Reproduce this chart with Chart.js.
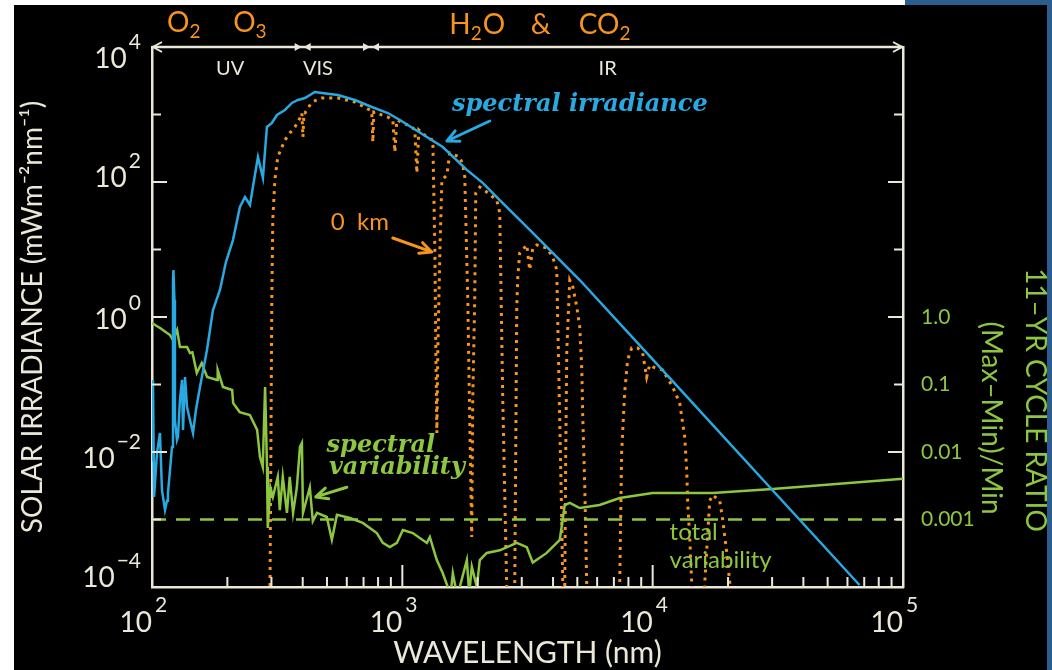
<!DOCTYPE html>
<html>
<head>
<meta charset="utf-8">
<title>Solar spectral irradiance and 11-yr variability</title>
<script src="https://cdn.jsdelivr.net/npm/chart.js@4.4.1/dist/chart.umd.min.js"></script>
<style>
  html, body { margin: 0; padding: 0; background: #fff; }
  #wrap { position: relative; width: 1052px; height: 670px; background: #fff; overflow: hidden; }
  #panel { position: absolute; left: 14px; top: 5px; width: 1033px; height: 665px; background: #000; }
  #edge { position: absolute; left: 1047px; top: 0; width: 5px; height: 670px; background: #2b5d8e; }
  #corner { position: absolute; left: 905px; top: 0; width: 147px; height: 5px; background: #2b5d8e; }
  canvas { position: absolute; left: 0; top: 0; }
</style>
</head>
<body>
<div id="wrap">
  <div id="panel"></div>
  <canvas id="chart" width="1052" height="670"></canvas>
  <div id="edge"></div>
  <div id="corner"></div>
</div>
<script>
// top of atmosphere spectral irradiance (mW m-2 nm-1)
const irrWl = [100, 100.9, 101.9, 104.7, 107.6, 109.6, 112.7, 114.8, 115.8, 118, 120.2, 121.3, 121.8, 122.9, 123.5,
  125.8, 127, 129.3, 131.8, 133, 135.5, 138, 141.8, 145.8, 149.8, 155.5, 165.8, 175.2, 186.8, 197.4, 210.6, 224.5,
  235.2, 246.2, 253, 265, 277.4, 287.8, 301.3, 315.5, 339.6, 362.2, 382.6, 408.1, 447.4, 477.1, 552.6, 646.2, 755.3,
  875.2, 978, 1253, 1451, 1810, 2095, 2450, 3319, 5114, 10000, 32100, 67000];
const irrVal = [0.0076, 0.117, 0.00216, 0.0097, 0.0191, 0.00274, 0.00138, 0.0019, 0.00247, 0.0054, 0.0119, 3.53, 4.97, 1.79, 0.0298,
  0.0151, 0.0167, 0.0589, 0.117, 0.0212, 0.129, 0.0464, 0.0298, 0.0191, 0.0419, 0.0918, 0.324, 1.27, 2.51, 6.53, 13.8, 42.6,
  60.0, 45.6, 84.3, 234, 115, 653, 748, 984, 1166, 1481, 1640, 1755, 2154, 2083, 1945, 1640, 1292,
  1052, 829, 464, 330, 151, 97, 54, 17.6, 3.53, 0.235, 0.0021, 1.07e-4];

// surface (0 km) irradiance, absorption bands drop below the axis
const surfWl = [293, 296.1, 298.5, 301, 303.7, 309.6, 317.9, 339.6, 355.4, 372.4, 390.2, 397, 400.9, 404.4, 408.1,
  435.3, 477.1, 552.6, 646.2, 741.9, 755.3, 762.3, 769.4, 875.2, 916.6, 933.5, 950.6, 1091, 1121.8, 1143, 1164,
  1264, 1324, 1349, 1361, 1374, 1386, 1413, 1438.6, 1507, 1547, 1622, 1696, 1744, 1776, 1826, 1859, 1893, 1911,
  1946, 1965, 2039, 2174, 2383, 2450, 2519, 2612, 2661, 2761, 2812, 2838, 2865, 2892, 2944, 3141, 3228, 3319,
  3444, 3774, 3990, 4139, 4176, 4254, 4333, 4375, 4420, 4455, 4496, 4539, 4665, 4797, 4977, 5114, 5210, 5260,
  5356, 5454, 5503, 7318, 7385, 7516, 7727, 7943, 8241, 8710, 9120, 9462, 9727, 10000, 10965, 12023, 12823,
  13428, 13677, 13804, 14060, 14322, 14446, 15981, 16144, 16904, 17378, 18535, 19055, 19770, 20324, 20485];
const surfVal = [1e-6, 1e-4, 0.0107, 1.79, 27.4, 107, 235, 419, 532, 653, 888, 1052, 464, 1052, 1052,
  1531, 1755, 1755, 1531, 1166, 1089, 391, 1089, 918, 829, 278, 829, 653, 589, 136, 589,
  449, 419, 9.84, 0.324, 0.0191, 0.324, 9.84, 107, 127, 269, 251, 235, 179, 119, 1.79, 0.0298, 0.00055, 0.0589,
  1.79, 69, 84, 71, 54, 35, 0.0589, 1e-4, 1e-6, 1e-6, 1e-4, 0.0107, 1.41, 3.9, 8.9, 11.7, 5.0, 10.5,
  11.7, 10.5, 7.7, 5.0, 0.9, 0.0298, 0.00098, 1e-4, 1e-6, 1e-4, 0.0107, 0.324, 3.5, 2.8, 1.41, 0.71, 0.164, 0.0298,
  0.003, 1e-4, 1e-6, 1e-6, 1.15e-4, 0.0097, 0.075, 0.231, 0.347, 0.347, 0.293, 0.129, 0.195, 0.182, 0.164, 0.092, 0.053,
  0.0167, 0.0054, 0.00175, 0.00055, 1.15e-4, 1e-6, 1e-6, 1.15e-4, 0.0019, 0.0023, 0.0019, 0.00098, 0.00032, 1.15e-4, 1e-6];

// 11-yr cycle ratio (Max-Min)/Min
const varWl = [100, 108, 118, 121.3, 126, 129.3, 138, 141.8, 145, 151, 158, 166, 182, 183, 192, 209, 211, 224, 246,
  263, 270, 277, 283, 288, 290, 297, 304, 318, 324, 333, 346, 355, 366, 379, 390, 397, 401, 427, 439, 456, 499,
  523, 548, 617, 695, 791, 836, 891, 951, 1005, 1101, 1253, 1288, 1373, 1451, 1519, 1560, 1591, 1650, 1696, 1810,
  1850, 1895, 1984, 2039, 2174, 2450, 2865, 3141, 3319, 3774, 4139, 4254, 4455, 4665, 5114, 6143, 7385, 10000,
  17360, 30130, 100000];
const varVal = [0.815, 0.68, 0.541, 0.456, 0.642, 0.36, 0.36, 0.293, 0.3, 0.148, 0.208, 0.129, 0.117, 0.164, 0.092, 0.083, 0.053, 0.039, 0.0353,
  0.0212, 0.0084, 0.006, 0.092, 0.006, 0.00075, 0.003, 0.00216, 0.0043, 0.00138, 0.0043, 0.00125, 0.0043, 0.00125, 0.003, 0.0119, 0.0136, 0.00125, 0.003, 0.00095, 0.00125, 0.00109,
  0.0005, 0.00117, 0.00105, 0.00089, 0.00063, 0.00045, 0.00039, 0.00045, 0.0007, 0.00063, 0.00045, 0.00055, 0.00025, 0.00016, 0.0001, 0.00008, 0.00016, 0.00008, 0.0001, 0.00025,
  0.00008, 0.0002, 0.0001, 0.00025, 0.00032, 0.00035, 0.00045, 0.00039, 0.00023, 0.00032, 0.00045, 0.0005, 0.00164, 0.00176, 0.00148, 0.00164, 0.00208, 0.00247,
  0.00247, 0.00283, 0.004];

const totalVar = 0.001;
const xTicks = [100, 1000, 10000, 100000];
const yTicks = [1e-4, 1e-2, 1, 1e2, 1e4];
const ratioTicks = [1, 0.1, 0.01, 0.001];
const ratioLabels = ['1.0', '0.1', '0.01', '0.001'];

const C = { cream: '#ebe8d8', blue: '#29a9e1', orange: '#f7941e', green: '#8dc63f' };
const pts = (xs, ys) => xs.map((v, i) => ({ x: v, y: ys[i] }));

function chevron(ctx, x, y, dir, color) {
  ctx.strokeStyle = color;
  ctx.beginPath();
  ctx.moveTo(x - dir * 9, y - 5); ctx.lineTo(x, y); ctx.lineTo(x - dir * 9, y + 5);
  ctx.stroke();
}

function arrow(ctx, x1, y1, x2, y2, color) {
  const a = Math.atan2(y2 - y1, x2 - x1);
  ctx.strokeStyle = color;
  ctx.lineWidth = 3;
  ctx.lineCap = 'round';
  ctx.beginPath();
  ctx.moveTo(x1, y1); ctx.lineTo(x2, y2);
  for (const s of [-1, 1]) {
    ctx.moveTo(x2, y2);
    ctx.lineTo(x2 - 13 * Math.cos(a + s * 0.45), y2 - 13 * Math.sin(a + s * 0.45));
  }
  ctx.stroke();
}

// text runs with sub/superscripts: [text, shift] (shift>0 down, <0 up)
function runs(ctx, parts, cx, base, big, small, color, align) {
  ctx.fillStyle = color;
  ctx.textBaseline = 'alphabetic';
  ctx.textAlign = 'left';
  let w = 0;
  const sized = parts.map(([t, s]) => {
    ctx.font = (s ? small : big) + 'px Lato';
    const m = ctx.measureText(t).width;
    w += m;
    return [t, s, m];
  });
  let x = align === 'right' ? cx - w : align === 'left' ? cx : cx - w / 2;
  for (const [t, s, m] of sized) {
    ctx.font = (s ? small : big) + 'px Lato';
    ctx.fillText(t, x, base + s);
    x += m + (s ? 1 : 0);
  }
}

const expText = v => {
  const e = Math.round(Math.log10(v));
  return e < 0 ? '\u2212' + (-e) : String(e);
};

const overlay = {
  id: 'overlay',
  afterDraw(chart) {
    const { ctx, chartArea: a, scales } = chart;
    const px = v => scales.x.getPixelForValue(v);
    const py = v => scales.y.getPixelForValue(v);
    ctx.save();

    // inward tick marks
    ctx.strokeStyle = C.cream;
    ctx.lineWidth = 2;
    ctx.beginPath();
    for (let e = 2; e < 5; e++) {
      for (let m = 1; m < 10; m++) {
        const v = m * Math.pow(10, e);
        if (v === 100) continue;
        const xx = px(v);
        ctx.moveTo(xx, a.bottom); ctx.lineTo(xx, a.bottom - (m === 1 ? 22 : 10));
      }
    }
    for (let e = -3; e <= 3; e++) {
      const yy = py(Math.pow(10, e)), len = e % 2 === 0 ? 15 : 9;
      ctx.moveTo(a.left, yy); ctx.lineTo(a.left + len, yy);
      ctx.moveTo(a.right, yy); ctx.lineTo(a.right - len, yy);
    }
    ctx.stroke();

    // top band arrow UV | VIS | IR
    ctx.lineWidth = 2.5;
    ctx.beginPath(); ctx.moveTo(a.left, a.top); ctx.lineTo(a.right, a.top); ctx.stroke();
    ctx.lineWidth = 2;
    chevron(ctx, a.left + 1, a.top, -1, C.cream);
    chevron(ctx, a.right - 1, a.top, 1, C.cream);
    ctx.fillStyle = C.cream;
    for (const b of [400, 750]) {
      const bx = px(b);
      for (const s of [-1, 1]) {
        ctx.beginPath();
        ctx.moveTo(bx + s * 1, a.top);
        ctx.lineTo(bx + s * 8, a.top - 4);
        ctx.lineTo(bx + s * 8, a.top + 4);
        ctx.closePath(); ctx.fill();
      }
    }
    ctx.font = '20px Lato';
    ctx.textAlign = 'center';
    ctx.textBaseline = 'alphabetic';
    ctx.fillText('UV', px(205), a.top + 28);
    ctx.fillText('VIS', px(460), a.top + 28);
    ctx.fillText('IR', px(6610), a.top + 28);

    // absorbers
    runs(ctx, [['O', 0], ['2', 6]], px(134), 32, 28, 19, C.orange);
    runs(ctx, [['O', 0], ['3', 6]], px(246), 32, 28, 19, C.orange);
    runs(ctx, [['H', 0], ['2', 6], ['O', 0]], px(1983), 34, 28, 19, C.orange);
    runs(ctx, [['&', 0]], px(3572), 34, 28, 19, C.orange);
    runs(ctx, [['CO', 0], ['2', 6]], px(6430), 34, 28, 19, C.orange);

    // tick labels
    for (const v of xTicks) {
      runs(ctx, [['10', 0]], px(v), a.bottom + 45, 28, 21, C.cream, 'right');
      runs(ctx, [[expText(v), 0]], px(v) + 3, a.bottom + 25, 21, 21, C.cream, 'left');
    }
    const yShift = [-10, 6, 2, -5, 11];
    yTicks.forEach((v, i) => {
      const base = py(v) + 10 + yShift[i];
      ctx.font = '21px Lato';
      const ew = ctx.measureText(expText(v)).width;
      runs(ctx, [[expText(v), 0]], 141, base - 19, 21, 21, C.cream, 'right');
      runs(ctx, [['10', 0]], 139 - ew, base, 28, 21, C.cream, 'right');
    });

    // right axis title
    ctx.fillStyle = C.green;
    ctx.font = '28px Lato';
    ctx.textAlign = 'center';
    ctx.textBaseline = 'alphabetic';
    ctx.save(); ctx.translate(1026, 400); ctx.rotate(Math.PI / 2);
    ctx.fillText('11\u2013YR CYCLE RATIO', 0, 0); ctx.restore();
    ctx.save(); ctx.translate(982, 418); ctx.rotate(Math.PI / 2);
    ctx.fillText('(Max\u2013Min)/Min', 0, 0); ctx.restore();

    // annotations
    ctx.textBaseline = 'middle';
    ctx.font = 'italic bold 24px "DejaVu Serif"';
    ctx.fillStyle = C.blue;
    ctx.fillText('spectral irradiance', px(5117), py(1383));
    arrow(ctx, px(2235), py(801), px(1507), py(405), C.blue);
    ctx.fillStyle = C.green;
    ctx.fillText('spectral', px(821), py(0.0123));
    ctx.fillText('variability', px(951), py(0.0058));
    arrow(ctx, px(600), py(0.0030), px(451), py(0.00216), C.green);
    ctx.font = '24px Lato';
    ctx.fillText('total', px(14580), py(0.00065));
    ctx.fillText('variability', px(18680), py(0.00025));
    ctx.fillStyle = C.orange;
    ctx.fillText('0  km', px(677), py(25.5));
    arrow(ctx, px(916), py(14.8), px(1311), py(9.2), C.orange);
    ctx.restore();
  }
};

const axisBorder = { display: true, color: C.cream, width: 2.5 };

new Chart(document.getElementById('chart').getContext('2d'), {
  type: 'scatter',
  data: {
    datasets: [
      {
        label: 'spectral irradiance',
        data: pts(irrWl, irrVal),
        showLine: true, borderColor: C.blue, borderWidth: 2.5, pointRadius: 0,
        yAxisID: 'y', order: 1
      },
      {
        label: 'spectral variability',
        data: pts(varWl, varVal),
        showLine: true, borderColor: C.green, borderWidth: 2.5, pointRadius: 0,
        yAxisID: 'y2', order: 2
      },
      {
        label: 'total variability',
        data: pts([xTicks[0], xTicks[xTicks.length - 1]], [totalVar, totalVar]),
        showLine: true, borderColor: C.green, borderWidth: 2.5, borderDash: [14, 10], pointRadius: 0,
        yAxisID: 'y2', order: 3
      },
      {
        label: '0 km',
        data: pts(surfWl, surfVal),
        showLine: true, borderColor: C.orange, borderWidth: 3, borderDash: [3, 5], pointRadius: 0,
        yAxisID: 'y', order: 4
      }
    ]
  },
  options: {
    responsive: false,
    animation: false,
    events: [],
    layout: { padding: { top: 47, left: 0, right: 0, bottom: 0 } },
    plugins: { legend: { display: false }, tooltip: { enabled: false } },
    scales: {
      x: {
        type: 'logarithmic', position: 'bottom', min: 100, max: 100000,
        afterBuildTicks: s => { s.ticks = xTicks.map(v => ({ value: v })); },
        afterFit: s => { s.height = 83; },
        grid: { display: false },
        border: axisBorder,
        ticks: { display: false },
        title: {
          display: true, text: 'WAVELENGTH (nm)', color: C.cream,
          font: { family: 'Lato', size: 30 }, padding: { top: 0, bottom: -1 }
        }
      },
      y: {
        type: 'logarithmic', position: 'left', min: 1e-4, max: 1e4,
        afterBuildTicks: s => { s.ticks = yTicks.map(v => ({ value: v })); },
        afterFit: s => { s.width = 152; },
        grid: { display: false },
        border: axisBorder,
        ticks: { display: false },
        title: {
          display: true, text: 'SOLAR IRRADIANCE (mWm\u207b\u00b2nm\u207b\u00b9)', color: C.cream,
          font: { family: 'Lato', size: 28 }, padding: { top: 16, bottom: 0 }
        }
      },
      y2: {
        type: 'logarithmic', position: 'right', min: 1e-4, max: 1e4,
        afterBuildTicks: s => { s.ticks = ratioTicks.map(v => ({ value: v })); },
        afterFit: s => { s.width = 149; },
        grid: { display: false },
        border: axisBorder,
        ticks: {
          color: C.green, padding: 10, autoSkip: false,
          font: { family: 'Lato', size: 21 },
          callback: (v, i) => ratioLabels[i]
        }
      }
    }
  },
  plugins: [overlay]
});
</script>
</body>
</html>
